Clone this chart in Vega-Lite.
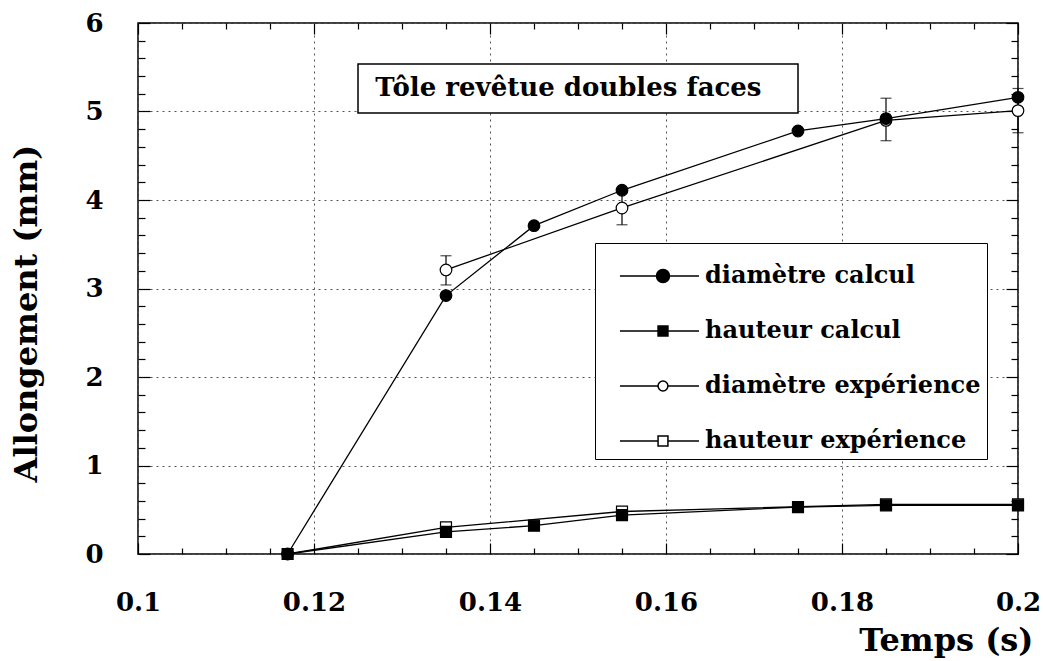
{
  "$schema": "https://vega.github.io/schema/vega-lite/v6.json",
  "width": 880,
  "height": 531,
  "autosize": {"type": "none"},
  "padding": {"left": 138, "top": 23, "right": 25, "bottom": 107},
  "background": "white",
  "config": {
    "view": {"stroke": "black", "strokeWidth": 1.5},
    "font": "DejaVu Serif"
  },
  "datasets": {
    "pts": [
      {"serie": "diamètre expérience", "t": 0.135, "v": 3.21},
      {"serie": "diamètre expérience", "t": 0.155, "v": 3.91},
      {"serie": "diamètre expérience", "t": 0.185, "v": 4.9},
      {"serie": "diamètre expérience", "t": 0.2, "v": 5.01},
      {"serie": "hauteur expérience", "t": 0.117, "v": 0},
      {"serie": "hauteur expérience", "t": 0.135, "v": 0.3},
      {"serie": "hauteur expérience", "t": 0.155, "v": 0.48},
      {"serie": "hauteur expérience", "t": 0.185, "v": 0.56},
      {"serie": "hauteur expérience", "t": 0.2, "v": 0.56},
      {"serie": "hauteur calcul", "t": 0.117, "v": 0},
      {"serie": "hauteur calcul", "t": 0.135, "v": 0.25},
      {"serie": "hauteur calcul", "t": 0.145, "v": 0.32},
      {"serie": "hauteur calcul", "t": 0.155, "v": 0.44},
      {"serie": "hauteur calcul", "t": 0.175, "v": 0.53},
      {"serie": "hauteur calcul", "t": 0.185, "v": 0.55},
      {"serie": "hauteur calcul", "t": 0.2, "v": 0.55},
      {"serie": "diamètre calcul", "t": 0.117, "v": 0},
      {"serie": "diamètre calcul", "t": 0.135, "v": 2.92},
      {"serie": "diamètre calcul", "t": 0.145, "v": 3.71},
      {"serie": "diamètre calcul", "t": 0.155, "v": 4.11},
      {"serie": "diamètre calcul", "t": 0.175, "v": 4.78},
      {"serie": "diamètre calcul", "t": 0.185, "v": 4.92},
      {"serie": "diamètre calcul", "t": 0.2, "v": 5.16}
    ],
    "err": [
      {"t": 0.135, "lo": 3.04, "hi": 3.37},
      {"t": 0.155, "lo": 3.72, "hi": 4.09},
      {"t": 0.185, "lo": 4.67, "hi": 5.15},
      {"t": 0.2, "lo": 4.76, "hi": 5.26}
    ]
  },
  "resolve": {"axis": {"x": "independent", "y": "independent"}},
  "layer": [
    {
      "data": {"name": "err"},
      "mark": {"type": "rule", "color": "black", "strokeWidth": 1.2},
      "encoding": {
        "x": {
          "field": "t", "type": "quantitative",
          "scale": {"domain": [0.1, 0.2], "nice": false, "zero": false},
          "axis": {
            "orient": "bottom",
            "values": [0.1, 0.105, 0.11, 0.115, 0.12, 0.125, 0.13, 0.135, 0.14, 0.145, 0.15, 0.155, 0.16, 0.165, 0.17, 0.175, 0.18, 0.185, 0.19, 0.195, 0.2],
            "format": ".2~f",
            "labelExpr": "abs(datum.value*50 - round(datum.value*50)) < 0.01 ? datum.label : ''",
            "labelFlush": false,
            "labelOverlap": false,
            "labelFont": "DejaVu Serif",
            "labelFontWeight": "bold",
            "labelFontSize": 26,
            "labelColor": "black",
            "labelPadding": 46,
            "domain": false,
            "ticks": true,
            "tickColor": "black",
            "tickWidth": 1.2,
            "tickSize": {"condition": {"test": "abs(datum.value*50 - round(datum.value*50)) < 0.01", "value": -11}, "value": -6},
            "grid": true,
            "gridColor": "#555555",
            "gridDash": [2, 4],
            "gridWidth": 1,
            "gridOpacity": {"condition": {"test": "abs(datum.value*50 - round(datum.value*50)) < 0.01", "value": 1}, "value": 0},
            "title": "Temps (s)",
            "titleFont": "DejaVu Serif",
            "titleFontWeight": "bold",
            "titleFontSize": 32,
            "titleColor": "black",
            "titleAlign": "right",
            "titleAnchor": "end",
            "titleX": 895,
            "titleY": 96,
            "titleBaseline": "alphabetic"
          }
        },
        "y": {
          "field": "lo", "type": "quantitative",
          "scale": {"domain": [0, 6], "nice": false, "zero": false},
          "axis": {
            "orient": "left",
            "values": [0, 0.2, 0.4, 0.6, 0.8, 1, 1.2, 1.4, 1.6, 1.8, 2, 2.2, 2.4, 2.6, 2.8, 3, 3.2, 3.4, 3.6, 3.8, 4, 4.2, 4.4, 4.6, 4.8, 5, 5.2, 5.4, 5.6, 5.8, 6],
            "labelExpr": "abs(datum.value - round(datum.value)) < 0.01 ? '' + round(datum.value) : ''",
            "labelOverlap": false,
            "labelFont": "DejaVu Serif",
            "labelFontWeight": "bold",
            "labelFontSize": 26,
            "labelColor": "black",
            "labelPadding": 47,
            "domain": false,
            "ticks": true,
            "tickColor": "black",
            "tickWidth": 1.2,
            "tickSize": {"condition": {"test": "abs(datum.value - round(datum.value)) < 0.01", "value": -12}, "value": -7},
            "grid": true,
            "gridColor": "#555555",
            "gridDash": [2, 4],
            "gridWidth": 1,
            "gridOpacity": {"condition": {"test": "abs(datum.value - round(datum.value)) < 0.01", "value": 1}, "value": 0},
            "title": "Allongement (mm)",
            "titleFont": "DejaVu Serif",
            "titleFontWeight": "bold",
            "titleFontSize": 32,
            "titleColor": "black",
            "titleAngle": -90,
            "titleX": -112,
            "titleY": 290,
            "titleAlign": "center",
            "titleBaseline": "middle"
          }
        },
        "y2": {"field": "hi"}
      }
    },
    {
      "data": {"name": "err"},
      "mark": {"type": "tick", "orient": "horizontal", "color": "black", "size": 11, "thickness": 1.2},
      "encoding": {
        "x": {"field": "t", "type": "quantitative", "scale": {"domain": [0.1, 0.2], "nice": false, "zero": false}, "axis": null},
        "y": {"field": "lo", "type": "quantitative", "scale": {"domain": [0, 6], "nice": false, "zero": false}, "axis": null}
      }
    },
    {
      "data": {"name": "err"},
      "mark": {"type": "tick", "orient": "horizontal", "color": "black", "size": 11, "thickness": 1.2},
      "encoding": {
        "x": {"field": "t", "type": "quantitative", "scale": {"domain": [0.1, 0.2], "nice": false, "zero": false}, "axis": null},
        "y": {"field": "hi", "type": "quantitative", "scale": {"domain": [0, 6], "nice": false, "zero": false}, "axis": null}
      }
    },
    {
      "data": {"name": "pts"},
      "mark": {"type": "line", "color": "black", "strokeWidth": 1.3},
      "encoding": {
        "detail": {"field": "serie", "type": "nominal"},
        "x": {
          "field": "t", "type": "quantitative",
          "scale": {"domain": [0.1, 0.2], "nice": false, "zero": false},
          "axis": {
            "orient": "top",
            "values": [0.1, 0.105, 0.11, 0.115, 0.12, 0.125, 0.13, 0.135, 0.14, 0.145, 0.15, 0.155, 0.16, 0.165, 0.17, 0.175, 0.18, 0.185, 0.19, 0.195, 0.2],
            "labels": false,
            "domain": false,
            "grid": false,
            "title": null,
            "tickColor": "black",
            "tickWidth": 1.2,
            "tickSize": {"condition": {"test": "abs(datum.value*50 - round(datum.value*50)) < 0.01", "value": -11}, "value": -6}
          }
        },
        "y": {
          "field": "v", "type": "quantitative",
          "scale": {"domain": [0, 6], "nice": false, "zero": false},
          "axis": {
            "orient": "right",
            "values": [0, 0.2, 0.4, 0.6, 0.8, 1, 1.2, 1.4, 1.6, 1.8, 2, 2.2, 2.4, 2.6, 2.8, 3, 3.2, 3.4, 3.6, 3.8, 4, 4.2, 4.4, 4.6, 4.8, 5, 5.2, 5.4, 5.6, 5.8, 6],
            "labels": false,
            "domain": false,
            "grid": false,
            "title": null,
            "tickColor": "black",
            "tickWidth": 1.2,
            "tickSize": {"condition": {"test": "abs(datum.value - round(datum.value)) < 0.01", "value": -12}, "value": -7}
          }
        }
      }
    },
    {
      "data": {"name": "pts"},
      "mark": {"type": "point", "stroke": "black", "strokeWidth": 1.2, "opacity": 0},
      "encoding": {
        "x": {"field": "t", "type": "quantitative", "scale": {"domain": [0.1, 0.2], "nice": false, "zero": false}, "axis": null},
        "y": {"field": "v", "type": "quantitative", "scale": {"domain": [0, 6], "nice": false, "zero": false}, "axis": null},
        "shape": {
          "field": "serie", "type": "nominal",
          "scale": {
            "domain": ["diamètre calcul", "hauteur calcul", "diamètre expérience", "hauteur expérience"],
            "range": [
              "M-0.31,0L2.73,0M1.096,0A0.25,0.25,0,1,1,1.596,0A0.25,0.25,0,1,1,1.096,0Z",
              "M-0.31,0L2.73,0M1.156,-0.19L1.536,-0.19L1.536,0.19L1.156,0.19Z",
              "M-0.31,0L1.156,0M1.536,0L2.73,0M1.156,0A0.19,0.19,0,1,1,1.536,0A0.19,0.19,0,1,1,1.156,0Z",
              "M-0.31,0L1.156,0M1.536,0L2.73,0M1.156,-0.19L1.536,-0.19L1.536,0.19L1.156,0.19Z"
            ]
          },
          "legend": {
            "orient": "none",
            "legendX": 457,
            "legendY": 220,
            "title": null,
            "padding": 6,
            "rowPadding": 16,
            "symbolSize": 2704,
            "labelOffset": 50,
            "labelFont": "DejaVu Serif",
            "labelFontWeight": "bold",
            "labelFontSize": 24,
            "labelColor": "black",
            "labelLimit": 0,
            "labelBaseline": "middle",
            "fillColor": "white",
            "strokeColor": "black",
            "encode": {
              "legend": {"update": {"strokeWidth": {"value": 1.5}}},
              "symbols": {
                "update": {
                  "fill": {"signal": "(datum.value === 'diamètre calcul' || datum.value === 'hauteur calcul') ? 'black' : 'white'"},
                  "stroke": {"value": "black"},
                  "strokeWidth": {"value": 1.2},
                  "size": {"value": 2704},
                  "opacity": {"value": 1}
                }
              }
            }
          }
        }
      }
    },
    {
      "data": {"name": "pts"},
      "transform": [{"filter": "datum.serie == 'diamètre calcul' || datum.serie == 'diamètre expérience'"}],
      "mark": {"type": "point", "shape": "circle", "stroke": "black", "strokeWidth": 1.2, "size": 135, "opacity": 1},
      "encoding": {
        "x": {"field": "t", "type": "quantitative", "scale": {"domain": [0.1, 0.2], "nice": false, "zero": false}, "axis": null},
        "y": {"field": "v", "type": "quantitative", "scale": {"domain": [0, 6], "nice": false, "zero": false}, "axis": null},
        "fill": {
          "field": "serie", "type": "nominal",
          "scale": {"domain": ["diamètre calcul", "hauteur calcul", "diamètre expérience", "hauteur expérience"], "range": ["black", "black", "white", "white"]},
          "legend": null
        }
      }
    },
    {
      "data": {"name": "pts"},
      "transform": [{"filter": "datum.serie == 'hauteur calcul' || (datum.serie == 'hauteur expérience' && datum.v > 0)"}],
      "mark": {"type": "point", "shape": "square", "stroke": "black", "strokeWidth": 1.2, "size": 120, "opacity": 1},
      "encoding": {
        "x": {"field": "t", "type": "quantitative", "scale": {"domain": [0.1, 0.2], "nice": false, "zero": false}, "axis": null},
        "y": {"field": "v", "type": "quantitative", "scale": {"domain": [0, 6], "nice": false, "zero": false}, "axis": null},
        "fill": {
          "field": "serie", "type": "nominal",
          "scale": {"domain": ["diamètre calcul", "hauteur calcul", "diamètre expérience", "hauteur expérience"], "range": ["black", "black", "white", "white"]},
          "legend": null
        }
      }
    },
    {
      "data": {"values": [{}]},
      "mark": {"type": "rect", "fill": "white", "stroke": "black", "strokeWidth": 1.5},
      "encoding": {
        "x": {"datum": 0.125, "type": "quantitative", "scale": {"domain": [0.1, 0.2], "nice": false, "zero": false}, "axis": null},
        "x2": {"datum": 0.175},
        "y": {"datum": 5.537, "type": "quantitative", "scale": {"domain": [0, 6], "nice": false, "zero": false}, "axis": null},
        "y2": {"datum": 4.983}
      }
    },
    {
      "data": {"values": [{}]},
      "mark": {"type": "text", "text": "Tôle revêtue doubles faces", "font": "DejaVu Serif", "fontWeight": "bold", "fontSize": 26, "color": "black", "align": "center", "baseline": "middle"},
      "encoding": {
        "x": {"datum": 0.1489, "type": "quantitative", "scale": {"domain": [0.1, 0.2], "nice": false, "zero": false}, "axis": null},
        "y": {"datum": 5.266, "type": "quantitative", "scale": {"domain": [0, 6], "nice": false, "zero": false}, "axis": null}
      }
    }
  ]
}
